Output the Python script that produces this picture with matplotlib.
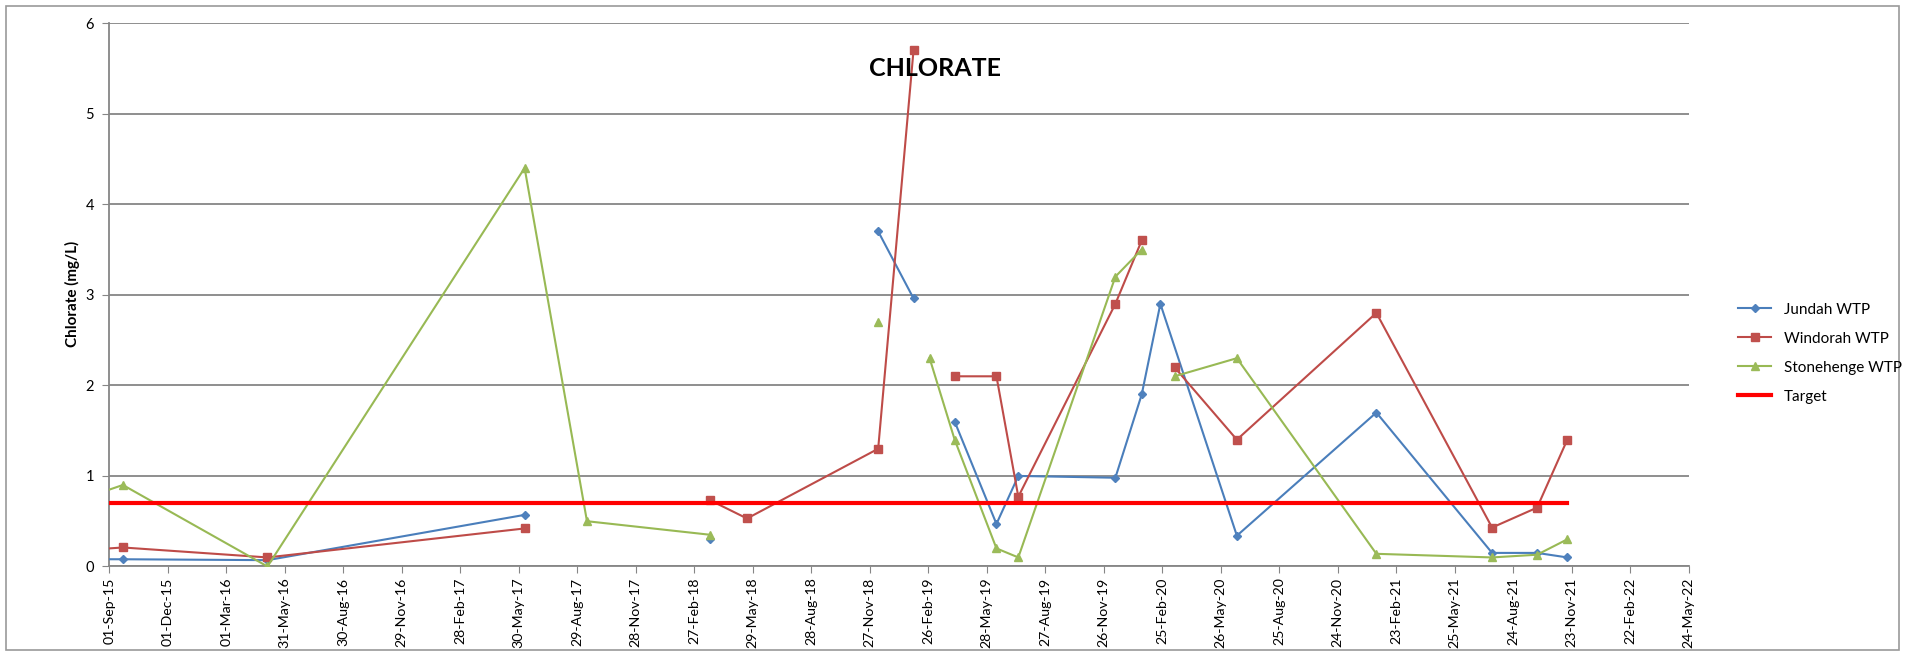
import numpy as np
import matplotlib
matplotlib.use("Agg")
import matplotlib.pyplot as plt
import matplotlib.dates as mdates
from matplotlib.patches import Rectangle

plt.rcParams['font.family'] = ['Lato', 'DejaVu Sans']

nan = np.nan

jundah_dates = ["2015-08-12", "2015-09-22", "2016-05-04", "2017-06-08", "2017-09-13",
                "2018-03-24", "2018-05-20", "2018-12-10", "2019-02-03", "2019-02-28",
                "2019-04-08", "2019-06-12", "2019-07-16", "2019-12-14", "2020-01-24",
                "2020-02-22", "2020-06-20", "2021-01-23", "2021-07-22", "2021-09-30",
                "2021-11-16"]
jundah_vals = [0.08, 0.08, 0.07, 0.57, nan,
               0.30, nan, 3.70, 2.96, nan,
               1.60, 0.47, 1.00, 0.98, 1.90,
               2.90, 0.34, 1.70, 0.15, 0.15,
               0.10]

windorah_dates = ["2015-08-12", "2015-09-22", "2016-05-04", "2017-06-08", "2017-09-13",
                  "2018-03-24", "2018-05-20", "2018-12-10", "2019-02-03", "2019-02-28",
                  "2019-04-08", "2019-06-12", "2019-07-16", "2019-12-14", "2020-01-24",
                  "2020-02-22", "2020-03-15", "2020-06-20", "2021-01-23", "2021-07-22",
                  "2021-09-30", "2021-11-16"]
windorah_vals = [0.19, 0.21, 0.10, 0.42, nan,
                 0.73, 0.53, 1.30, 5.70, nan,
                 2.10, 2.10, 0.77, 2.90, 3.60,
                 nan, 2.20, 1.40, 2.80, 0.43,
                 0.65, 1.40]

stonehenge_dates = ["2015-08-12", "2015-09-22", "2016-05-04", "2017-06-08", "2017-09-13",
                    "2018-03-24", "2018-05-20", "2018-12-10", "2019-02-03", "2019-02-28",
                    "2019-04-08", "2019-06-12", "2019-07-16", "2019-12-14", "2020-01-24",
                    "2020-02-22", "2020-03-15", "2020-06-20", "2021-01-23", "2021-07-22",
                    "2021-09-30", "2021-11-16"]
stonehenge_vals = [0.80, 0.90, 0.00, 4.40, 0.50,
                   0.35, nan, 2.70, nan, 2.30,
                   1.40, 0.20, 0.10, 3.20, 3.50,
                   nan, 2.10, 2.30, 0.14, 0.10,
                   0.13, 0.30]

target_dates = ["2015-08-12", "2021-11-16"]
target_vals = [0.7, 0.7]

x_start = "2015-09-01"
x_end = "2022-05-24"
tick_step_days = 91

def to_dt(lst):
    return np.array(lst, dtype="datetime64[D]").astype("datetime64[ms]").astype(object)

fig = plt.figure(figsize=(19.05, 6.54), dpi=100)
ax = fig.add_axes([0.0574, 0.1338, 0.8291, 0.8309])

ax.plot(to_dt(jundah_dates), jundah_vals, color="#4A7EBB", lw=1.5, marker="D",
        ms=4, mfc="#4F81BD", mec="#4F81BD", label="Jundah WTP", zorder=3)
ax.plot(to_dt(windorah_dates), windorah_vals, color="#BE4B48", lw=1.5, marker="s",
        ms=5.5, mfc="#C0504D", mec="#C0504D", label="Windorah WTP", zorder=3)
ax.plot(to_dt(stonehenge_dates), stonehenge_vals, color="#98B954", lw=1.5, marker="^",
        ms=6, mfc="#9BBB59", mec="#9BBB59", label="Stonehenge WTP", zorder=3)
ax.plot(to_dt(target_dates), target_vals, color="#FF0000", lw=3, label="Target", zorder=4)

x0 = np.datetime64(x_start)
x1 = np.datetime64(x_end)
ax.set_xlim(mdates.date2num(x0.astype(object)), mdates.date2num(x1.astype(object)))
ticks = np.arange(x0, x1 + np.timedelta64(1, "D"), np.timedelta64(tick_step_days, "D"))
ax.set_xticks([mdates.date2num(t.astype(object)) for t in ticks])
ax.set_xticklabels([t.astype(object).strftime("%d-%b-%y") for t in ticks],
                   rotation=90, fontsize=10.2)

ax.set_ylim(0, 6)
ax.set_yticks(range(0, 7))
ax.tick_params(axis="y", labelsize=10.5, length=5, color="#868686", pad=6)
ax.tick_params(axis="x", length=5, color="#868686", pad=3)
ax.grid(axis="y", color="#868686", lw=1.3)
ax.set_axisbelow(True)
for s in ["top", "right"]:
    ax.spines[s].set_visible(False)
for s in ["left", "bottom"]:
    ax.spines[s].set_color("#868686")
    ax.spines[s].set_linewidth(1.3)

fig.text(0.038, 0.55, "Chlorate (mg/L)", rotation=90, fontsize=11, fontweight="bold",
         ha="center", va="center")
fig.text(0.491, 0.896, "CHLORATE", fontsize=18, fontweight="bold", ha="center", va="center")

handles, labels = ax.get_legend_handles_labels()
fig.legend(handles, labels, loc="upper left", bbox_to_anchor=(0.905, 0.558),
           frameon=False, fontsize=11, labelspacing=0.98, handlelength=2.2)

fig.patches.append(Rectangle((0.003, 0.006), 0.994, 0.985, transform=fig.transFigure,
                             fill=False, edgecolor="#9A9A9A", lw=1.2))

fig.savefig("out.png", dpi=100)
